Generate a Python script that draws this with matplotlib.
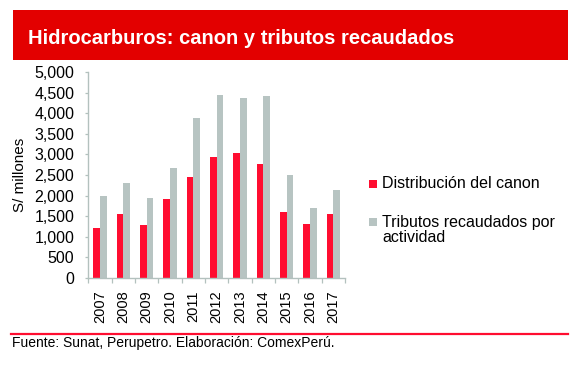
import matplotlib
matplotlib.use("Agg")
import matplotlib.pyplot as plt
from matplotlib.patches import Rectangle
from matplotlib.lines import Line2D
import numpy as np

plt.rcParams['font.family'] = ['Liberation Sans', 'DejaVu Sans']

years = ["2007", "2008", "2009", "2010", "2011", "2012", "2013", "2014", "2015", "2016", "2017"]
canon = [1215, 1555, 1295, 1910, 2460, 2930, 3045, 2775, 1610, 1320, 1555]
tributos = [1985, 2305, 1935, 2665, 3885, 4435, 4380, 4410, 2510, 1700, 2145]
yticks = [0, 500, 1000, 1500, 2000, 2500, 3000, 3500, 4000, 4500, 5000]

title = "Hidrocarburos: canon y tributos recaudados"
ylabel = "S/ millones"
legend_labels = ["Distribución del canon", "Tributos recaudados por\nactividad"]
source = "Fuente: Sunat, Perupetro. Elaboración: ComexPerú."

RED = "#FF0D30"
GRAY = "#B7C4C2"
SPINE = "#B3C1BE"
BOX = "#E30000"

W, H = 579, 367
fig = plt.figure(figsize=(W / 100, H / 100), dpi=100)

def fx(px):
    return px / W

def fy(py):
    return 1 - py / H

# title box
fig.add_artist(Rectangle((fx(13), fy(60)), fx(568) - fx(13), fy(10) - fy(60),
                         transform=fig.transFigure, facecolor=BOX, edgecolor="none"))
fig.text(fx(28), fy(44.3), title, color="white", fontsize=14.5, fontweight="bold",
         ha="left", va="baseline")

# axes
ax = fig.add_axes([fx(88.3), fy(278), fx(345) - fx(88.3), fy(72) - fy(278)])
x = np.arange(len(years))
bw = 0.28
ax.bar(x - bw / 2, canon, width=bw, color=RED, linewidth=0)
ax.bar(x + bw / 2, tributos, width=bw, color=GRAY, linewidth=0)

ax.set_xlim(-0.5, len(years) - 0.5)
ax.set_ylim(0, 5000)
ax.set_yticks(yticks)
ax.set_yticklabels([f"{v:,}" for v in yticks], fontsize=11.5)
ax.set_xticks(x)
ax.set_xticklabels(years, rotation=90, fontsize=10.5, va="top", ha="center")
ax.set_xticks(np.arange(-0.5, len(years), 1.0), minor=True)
ax.tick_params(axis="x", which="major", length=0, pad=9)
ax.tick_params(axis="x", which="minor", length=3.5, width=0.9, color=SPINE)
ax.tick_params(axis="y", length=2, width=0.9, color=SPINE, pad=8)

for s in ["top", "right"]:
    ax.spines[s].set_visible(False)
for s in ["left", "bottom"]:
    ax.spines[s].set_color(SPINE)
    ax.spines[s].set_linewidth(1.0)

fig.text(fx(20), fy(175), ylabel, rotation=90, fontsize=11, ha="center", va="center")

# legend (manual placement)
fig.add_artist(Rectangle((fx(369), fy(188)), fx(8), fy(180) - fy(188),
                         transform=fig.transFigure, facecolor=RED, edgecolor="none"))
fig.text(fx(382), fy(184), legend_labels[0], fontsize=11.5, ha="left", va="center")
fig.add_artist(Rectangle((fx(369), fy(226)), fx(8), fy(218) - fy(226),
                         transform=fig.transFigure, facecolor=GRAY, edgecolor="none"))
fig.text(fx(382), fy(215.5), legend_labels[1], fontsize=11.5, ha="left", va="top",
         linespacing=0.95)

# footer
fig.add_artist(Line2D([fx(11), fx(568)], [fy(334.3), fy(334.3)], transform=fig.transFigure,
                      color=RED, linewidth=1.6))
fig.text(fx(12), fy(347.3), source, fontsize=10, ha="left", va="baseline")

fig.savefig("out.png", dpi=100)
